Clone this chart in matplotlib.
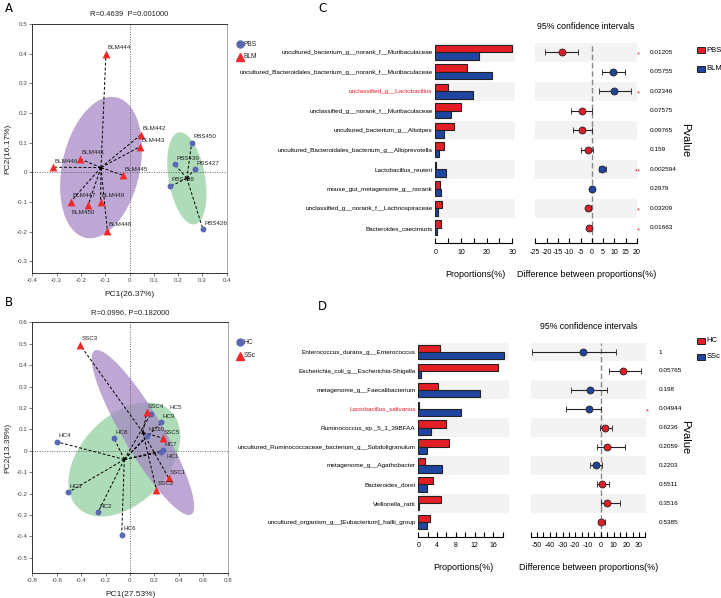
import numpy as np
import matplotlib.pyplot as plt
from matplotlib.patches import Rectangle
from matplotlib.lines import Line2D

plt.rcParams['font.family'] = ['Liberation Sans Narrow', 'Liberation Sans', 'DejaVu Sans']

W, H = 721, 598
RED = '#e41e26'
BLUE = '#1f45a0'
PT_BLUE = '#5a68b4'
PT_RED = '#ee2a2a'
PURPLE = '#a585c4'
GREEN = '#90cf9d'

# ---- panel A (PCoA, PBS vs BLM)
a_pbs_names = ['PBS450', 'PBS439', 'PBS427', 'PBS438', 'PBS426']
a_pbs_pc1 = [0.256, 0.186, 0.268, 0.168, 0.302]
a_pbs_pc2 = [0.100, 0.027, 0.010, -0.048, -0.192]
a_blm_names = ['BLM444', 'BLM442', 'BLM443', 'BLM441', 'BLM446', 'BLM445',
               'BLM447', 'BLM450', 'BLM449', 'BLM448']
a_blm_pc1 = [-0.097, 0.046, 0.043, -0.204, -0.314, -0.025, -0.242, -0.170, -0.119, -0.091]
a_blm_pc2 = [0.400, 0.126, 0.086, 0.045, 0.017, -0.011, -0.099, -0.110, -0.100, -0.197]

# ---- panel B (PCoA, HC vs SSc)
b_hc_names = ['HC4', 'HC8', 'HC3', 'HC2', 'HC6', 'HC10', 'HC9', 'HC5', 'HC7', 'HC1']
b_hc_pc1 = [-0.596, -0.131, -0.506, -0.262, -0.068, 0.139, 0.257, 0.172, 0.273, 0.257]
b_hc_pc2 = [0.041, 0.059, -0.195, -0.288, -0.393, 0.070, 0.132, 0.173, 0.001, -0.008]
b_ssc_names = ['SSC3', 'SSC4', 'SSC5', 'SSC1', 'SSC2']
b_ssc_pc1 = [-0.410, 0.137, 0.268, 0.317, 0.216]
b_ssc_pc2 = [0.495, 0.181, 0.059, -0.128, -0.182]

# ---- panel C (PBS vs BLM)
c_taxa = ['uncultured_bacterium_g__norank_f__Muribaculaceae',
          'uncultured_Bacteroidales_bacterium_g__norank_f__Muribaculaceae',
          'unclassified_g__Lactobacillus',
          'unclassified_g__norank_f__Muribaculaceae',
          'uncultured_bacterium_g__Alistipes',
          'uncultured_Bacteroidales_bacterium_g__Alloprevotella',
          'Lactobacillus_reuteri',
          'mouse_gut_metagenome_g__norank',
          'unclassified_g__norank_f__Lachnospiraceae',
          'Bacteroides_caecimuris']
c_pbs = [30.0, 12.5, 5.1, 10.2, 7.4, 3.5, 0.1, 1.7, 2.5, 2.1]
c_blm = [17.0, 22.0, 14.7, 6.0, 3.3, 1.4, 4.3, 2.1, 0.9, 0.8]
c_diff = [-13.3, 9.3, 9.9, -4.3, -4.2, -1.9, 4.4, 0.3, -1.5, -1.2]
c_lo = [-20.8, 4.4, 3.4, -9.2, -8.2, -4.9, 3.0, -0.2, -2.7, -2.2]
c_hi = [-6.2, 14.5, 17.5, 0.0, 0.0, 0.4, 6.2, 0.8, -0.4, -0.3]
c_pval = ['0.01205', '0.05755', '0.02346', '0.07575', '0.09765', '0.159',
          '0.002594', '0.2979', '0.03209', '0.01663']
c_star = ['*', '', '*', '', '', '', '**', '', '*', '*']
c_red_label = 2

# ---- panel D (HC vs SSc)
d_taxa = ['Enterococcus_durans_g__Enterococcus',
          'Escherichia_coli_g__Escherichia-Shigella',
          'metagenome_g__Faecalibacterium',
          'Lactobacillus_salivarius',
          'Ruminococcus_sp._5_1_39BFAA',
          'uncultured_Ruminococcaceae_bacterium_g__Subdoligranulum',
          'metagenome_g__Agathobacter',
          'Bacteroides_dorei',
          'Veillonella_ratti',
          'uncultured_organism_g__[Eubacterium]_hallii_group']
d_hc = [4.7, 17.1, 4.3, 0.05, 6.0, 6.6, 1.5, 3.1, 4.8, 2.6]
d_ssc = [18.4, 0.5, 13.2, 9.2, 2.8, 1.9, 5.0, 1.8, 0.07, 1.9]
d_diff = [-13.8, 17.4, -8.6, -9.1, 3.6, 5.2, -3.4, 1.3, 5.2, 0.5]
d_lo = [-54.2, 6.5, -23.4, -27.3, -0.5, -2.9, -8.3, -2.6, 0.3, -1.5]
d_hi = [12.2, 31.3, 5.2, 0.3, 8.9, 19.3, 1.0, 6.5, 14.8, 3.4]
d_pval = ['1', '0.05765', '0.198', '0.04944', '0.6236', '0.2059', '0.2203',
          '0.5511', '0.3516', '0.5385']
d_star = ['', '', '', '*', '', '', '', '', '', '']
d_red_label = 3

# a few sample labels nudged so they don't sit on top of each other
label_nudge = {'BLM450': (-12, -7), 'HC5': (13, 3), 'HC1': (4, -5), 'PBS438': (1, 3)}


def rect(x0, y0, x1, y1):
    return [x0 / W, 1 - y1 / H, (x1 - x0) / W, (y1 - y0) / H]


def fx(x):
    return x / W


def fy(y):
    return 1 - y / H


def ellipse(ax, x, y, color, k=1.42):
    x = np.asarray(x)
    y = np.asarray(y)
    vals, vecs = np.linalg.eigh(np.cov(x, y))
    t = np.linspace(0, 2 * np.pi, 200)
    pts = vecs @ (k * np.sqrt(vals)[:, None] * np.stack([np.cos(t), np.sin(t)]))
    ax.fill(x.mean() + pts[0], y.mean() + pts[1], color=color, alpha=0.72, lw=0, zorder=1)


def spokes(ax, x, y):
    mx, my = np.mean(x), np.mean(y)
    for xi, yi in zip(x, y):
        ax.plot([mx, xi], [my, yi], color='k', lw=0.7, ls=(0, (3, 2)), zorder=3)
    ax.plot(mx, my, marker='+', color='k', ms=3, mew=0.8, zorder=4)


def pcoa(ax, g1, g2, xlim, ylim, xt, yt, title, xlab, ylab):
    (n1, x1, y1), (n2, x2, y2) = g1, g2
    ellipse(ax, x1, y1, GREEN)
    ellipse(ax, x2, y2, PURPLE)
    ax.axhline(0, color='#666', lw=0.7, ls=(0, (1, 1.5)), zorder=2)
    ax.axvline(0, color='#666', lw=0.7, ls=(0, (1, 1.5)), zorder=2)
    spokes(ax, x1, y1)
    spokes(ax, x2, y2)
    ax.scatter(x1, y1, s=18, color=PT_BLUE, marker='o', lw=0, zorder=5)
    ax.scatter(x2, y2, s=32, color=PT_RED, marker='^', lw=0, zorder=5)
    for names, xs, ys in ((n1, x1, y1), (n2, x2, y2)):
        for n, xi, yi in zip(names, xs, ys):
            ax.annotate(n, (xi, yi), xytext=label_nudge.get(n, (1, 2.5)),
                        textcoords='offset points', fontsize=4.5, color='#222',
                        ha='left', va='bottom', zorder=6)
    ax.set_xlim(xlim)
    ax.set_ylim(ylim)
    ax.set_xticks(xt)
    ax.set_xticklabels(['0' if abs(v) < 1e-9 else f'{v:g}' for v in xt])
    ax.set_yticks(yt)
    ax.set_yticklabels(['0' if abs(v) < 1e-9 else f'{v:g}' for v in yt])
    ax.tick_params(labelsize=4.5, labelcolor='#444', length=2, width=0.5, pad=1.5, color='#444')
    for s in ('left', 'bottom', 'top'):
        ax.spines[s].set_color('#333')
        ax.spines[s].set_linewidth(0.7)
    ax.spines['right'].set_color('#aaa')
    ax.spines['right'].set_linewidth(0.7)
    ax.set_title(title, fontsize=5.5, pad=6, color='#222')
    ax.set_xlabel(xlab, fontsize=6, labelpad=6, color='#222')
    ax.set_ylabel(ylab, fontsize=6, labelpad=4, color='#222')


def stamp(axb, axd, taxa, red, blue, diff, lo, hi, pv, star, hl,
          bar_xlim, bar_bound, bar_ticks, bar_lab, d_xlim, d_ticks, d_lab,
          pv_x, star_x, nrow_bottom):
    n = len(taxa)
    rows = np.arange(n)
    for ax, xl in ((axb, bar_xlim), (axd, d_xlim)):
        for i in range(0, n, 2):
            ax.axhspan(i - 0.5, i + 0.5, color='#f3f3f3', lw=0, zorder=0)
        ax.set_xlim(xl)
        ax.set_ylim(nrow_bottom, -0.5)
        for s in ('left', 'top', 'right'):
            ax.spines[s].set_visible(False)
        ax.spines['bottom'].set_linewidth(0.8)
        ax.tick_params(axis='x', direction='in', length=3.5, width=0.8, labelsize=5, pad=4)
        ax.patch.set_alpha(0)
    axb.barh(rows - 0.19, red, height=0.38, color=RED, edgecolor='#222', lw=0.8, zorder=2)
    axb.barh(rows + 0.19, blue, height=0.38, color=BLUE, edgecolor='#222', lw=0.8, zorder=2)
    axb.spines['bottom'].set_bounds(*bar_bound)
    axb.set_xticks(bar_ticks)
    axb.set_xticklabels(bar_lab)
    axb.set_yticks(rows)
    axb.set_yticklabels(taxa, fontsize=4.6)
    axb.tick_params(axis='y', length=0, pad=2)
    axb.get_yticklabels()[hl].set_color(RED)
    axb.set_xlabel('Proportions(%)', fontsize=6.5, labelpad=10)

    axd.axvline(0, color='#888', lw=1.0, ls=(0, (4, 2)), zorder=1)
    for i in rows:
        # dot takes the colour of the group with the higher mean proportion
        col = RED if red[i] > blue[i] else BLUE
        axd.errorbar(diff[i], i, xerr=[[diff[i] - lo[i]], [hi[i] - diff[i]]], fmt='o',
                     ms=5, mfc=col, mec='#222', mew=0.6, ecolor='#222', elinewidth=0.8,
                     capsize=2.2, capthick=0.8, zorder=3)
    tr = axd.get_yaxis_transform()
    for i in rows:
        axd.text(pv_x, i, pv[i], transform=tr, fontsize=4.6, va='center', ha='left')
        if star[i]:
            axd.text(star_x, i + 0.15, star[i], transform=tr, fontsize=5.5, va='center',
                     ha='center', color=RED)
    axd.spines['bottom'].set_bounds(d_ticks[0], d_ticks[-1])
    axd.set_xticks(d_ticks)
    axd.set_xticklabels(d_lab)
    axd.set_yticks([])
    axd.set_xlabel('Difference between proportions(%)', fontsize=6.5, labelpad=10)
    axd.set_title('95% confidence intervals', fontsize=6.3, pad=10)


fig = plt.figure(figsize=(W / 100, H / 100), dpi=100)

ax_a = fig.add_axes(rect(32.3, 24, 226.7, 273))
pcoa(ax_a, (a_pbs_names, a_pbs_pc1, a_pbs_pc2), (a_blm_names, a_blm_pc1, a_blm_pc2),
     (-0.4, 0.4), (-0.34, 0.5), np.round(np.arange(-0.4, 0.41, 0.1), 1),
     np.round(np.arange(-0.3, 0.51, 0.1), 1), 'R=0.4639  P=0.001000',
     'PC1(26.37%)', 'PC2(16.17%)')

ax_b = fig.add_axes(rect(32.3, 322.3, 227.7, 572.7))
pcoa(ax_b, (b_hc_names, b_hc_pc1, b_hc_pc2), (b_ssc_names, b_ssc_pc1, b_ssc_pc2),
     (-0.8, 0.8), (-0.57, 0.6), np.round(np.arange(-0.8, 0.81, 0.2), 1),
     np.round(np.arange(-0.5, 0.61, 0.1), 1), 'R=0.0996, P=0.182000',
     'PC1(27.53%)', 'PC2(13.39%)')

# legends for PCoA panels
for (yc1, yc2, l1, l2) in ((44.3, 57, 'PBS', 'BLM'), (342.3, 355.7, 'HC', 'SSc')):
    fig.add_artist(Line2D([fx(239.5)], [fy(yc1)], marker='o', ms=5, color=PT_BLUE, lw=0))
    fig.add_artist(Line2D([fx(239.5)], [fy(yc2)], marker='^', ms=5.5, color=PT_RED, lw=0))
    fig.text(fx(244), fy(yc1), l1, fontsize=4.8, va='center', color='#222')
    fig.text(fx(244), fy(yc2), l2, fontsize=4.8, va='center', color='#222')

ax_cb = fig.add_axes(rect(435.3, 42.55, 515.3, 243.3))
ax_cd = fig.add_axes(rect(535.3, 42.55, 637.0, 243.3))
stamp(ax_cb, ax_cd, c_taxa, c_pbs, c_blm, c_diff, c_lo, c_hi, c_pval, c_star, c_red_label,
      (0, 31.2), (0, 30), np.arange(0, 31, 5), ['0', '', '10', '', '20', '', '30'],
      (-25, 20), np.arange(-25, 21, 5), [f'{v}' for v in range(-25, 21, 5)],
      1.125, 1.01, 9.79)

ax_db = fig.add_axes(rect(418.3, 342.55, 508.7, 536.7))
ax_dd = fig.add_axes(rect(530.7, 342.55, 646.0, 536.7))
stamp(ax_db, ax_dd, d_taxa, d_hc, d_ssc, d_diff, d_lo, d_hi, d_pval, d_star, d_red_label,
      (0, 19.3), (0, 18), np.arange(0, 19, 2), ['0', '', '4', '', '8', '', '12', '', '16', ''],
      (-55, 35.5), np.arange(-55, 36, 5),
      ['' if v % 10 else f'{v}' for v in range(-55, 36, 5)],
      1.11, 1.01, 9.77)

# STAMP legends and Pvalue labels
for (y1, y2, l1, l2, yp) in ((50, 69, 'PBS', 'BLM', 140), (340.5, 357, 'HC', 'SSc', 437)):
    fig.add_artist(Rectangle((fx(697), fy(y1 + 3)), 8 / W, 6 / H, facecolor=RED,
                             edgecolor='#222', lw=0.7))
    fig.add_artist(Rectangle((fx(697), fy(y2 + 3)), 8 / W, 6 / H, facecolor=BLUE,
                             edgecolor='#222', lw=0.7))
    fig.text(fx(706.5), fy(y1), l1, fontsize=5.5, va='center')
    fig.text(fx(706.5), fy(y2), l2, fontsize=5.5, va='center')
    fig.text(fx(685), fy(yp), 'Pvalue', fontsize=8, rotation=270, va='center', ha='center')

# panel letters
for (x, y, s) in ((5, 9, 'A'), (5, 302, 'B'), (318, 8, 'C'), (318, 307, 'D')):
    fig.text(fx(x), fy(y), s, fontsize=8.5, family='DejaVu Sans', va='center', ha='left')

fig.savefig('out.png', dpi=100)
